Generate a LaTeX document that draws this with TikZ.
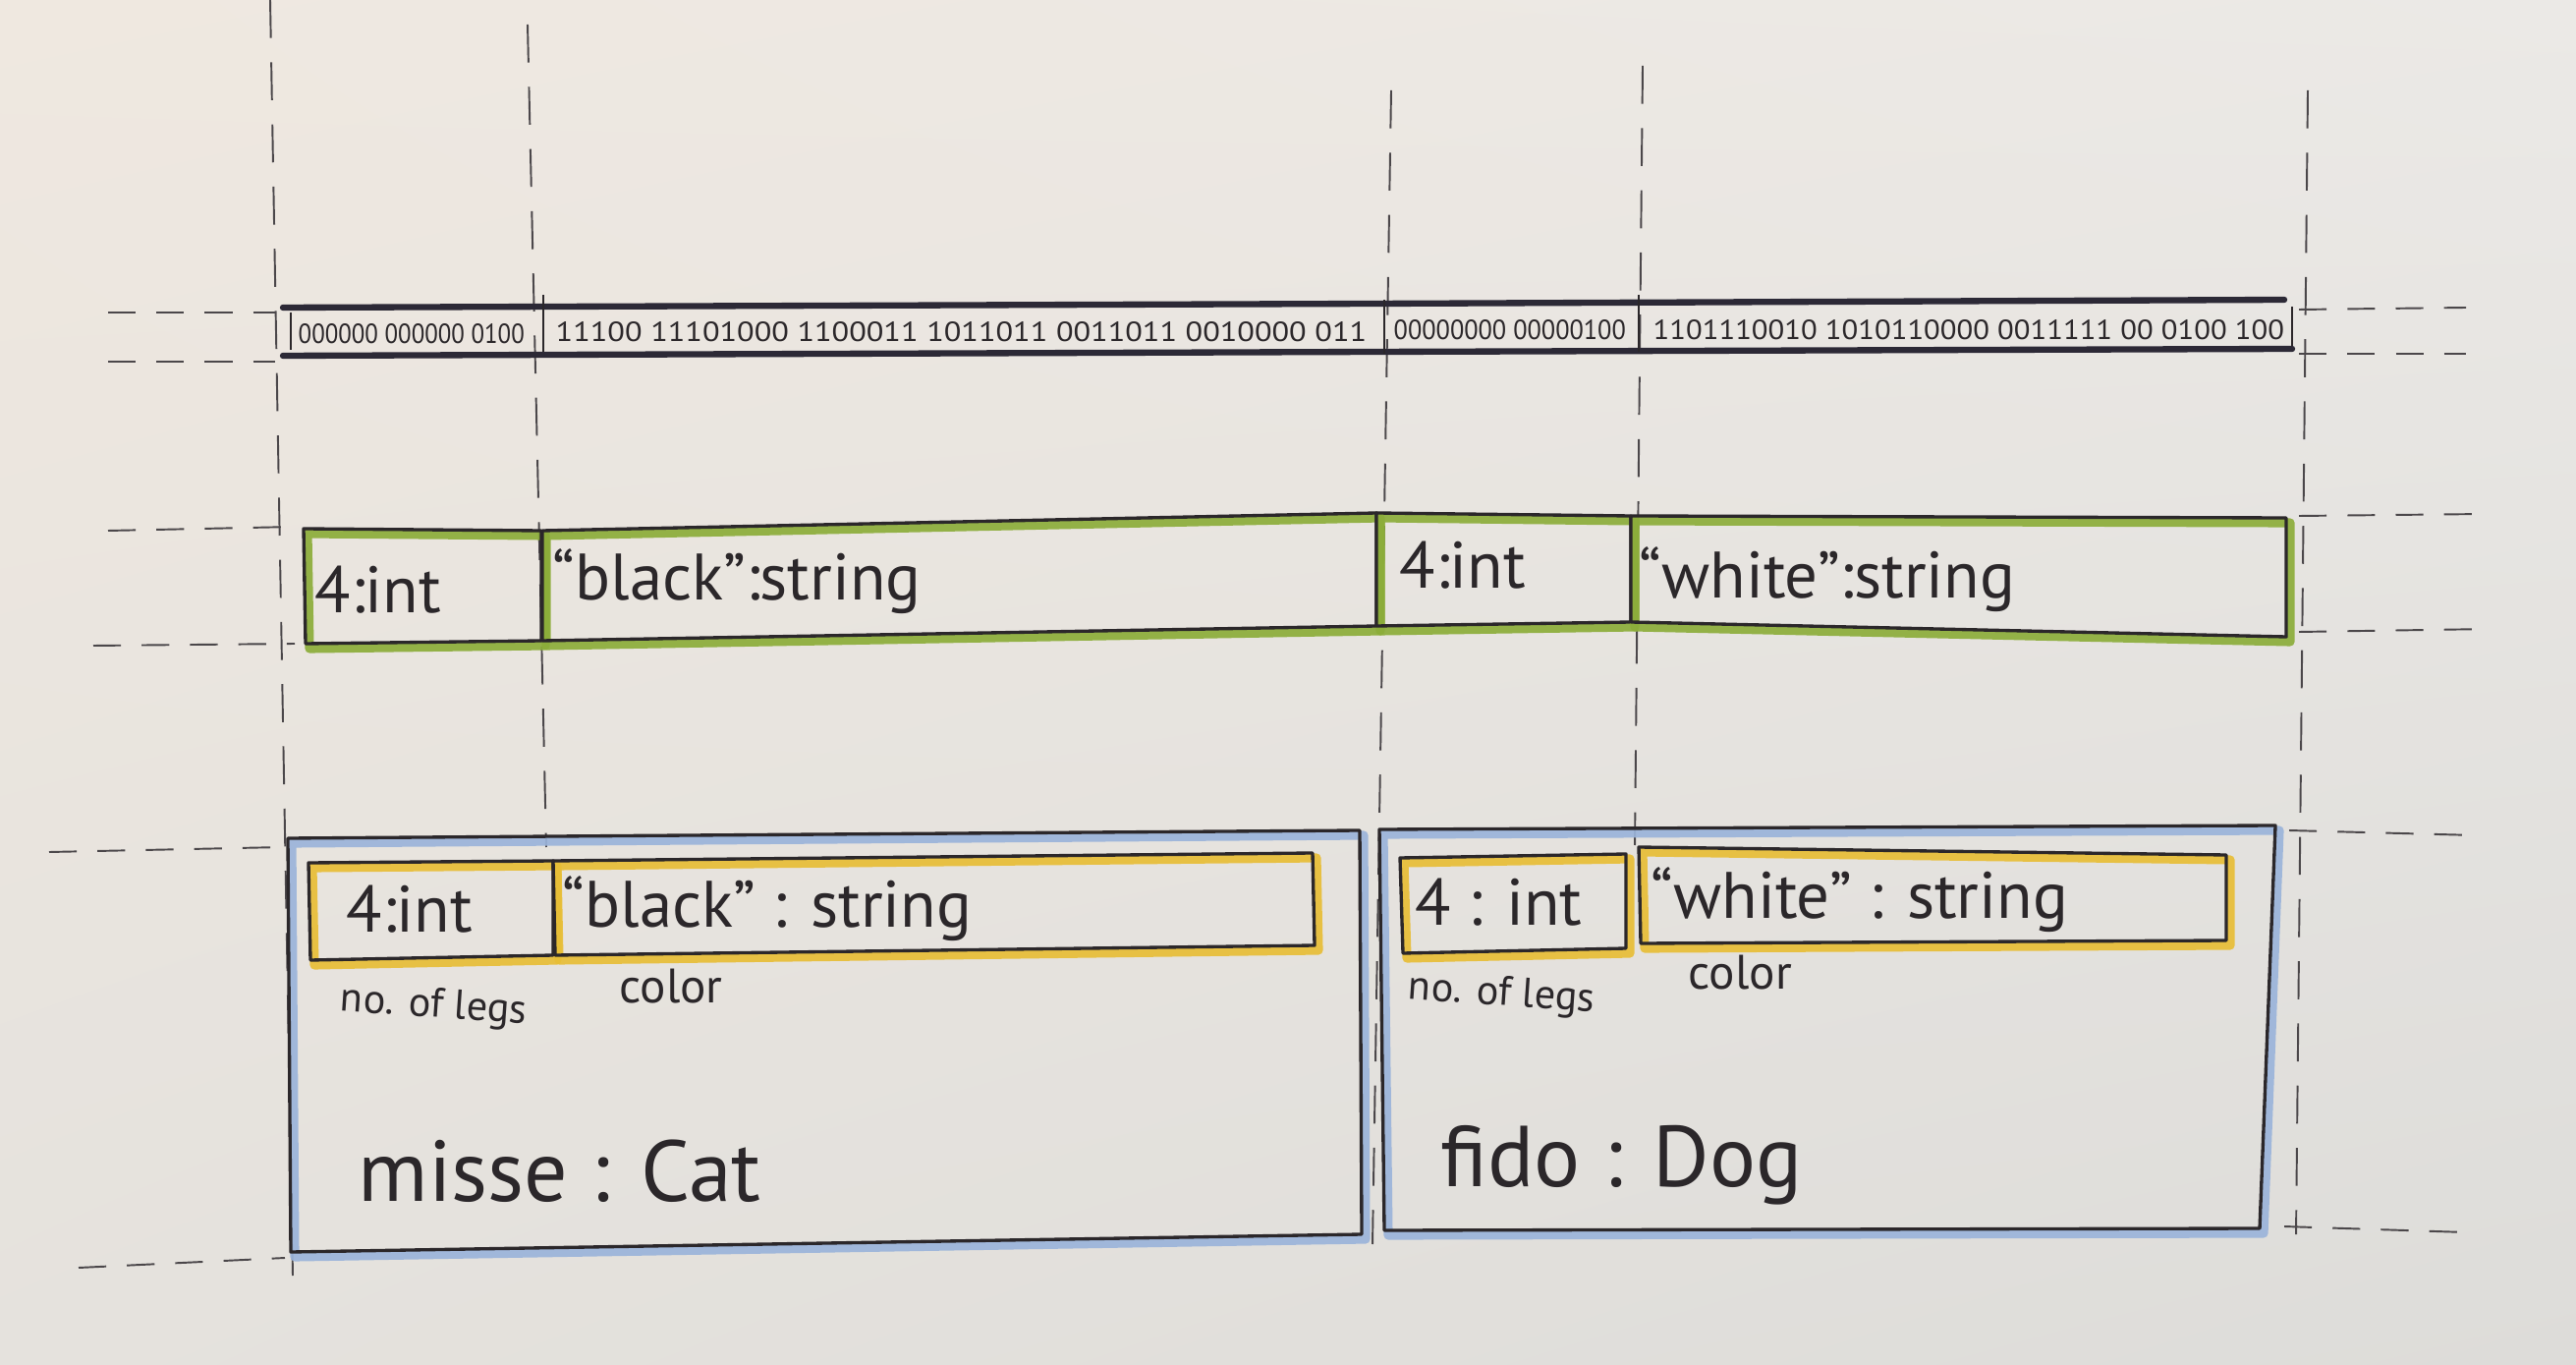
\documentclass[tikz,border=0pt]{standalone}
\usepackage{fontspec}
\usepackage{graphicx}
\setmainfont{PT Sans}
\usetikzlibrary{calc,shadings}

\definecolor{ink}{HTML}{2B272A}
\definecolor{navyink}{HTML}{2C2936}
\definecolor{leaf}{HTML}{8CAD3A}
\definecolor{butter}{HTML}{E8BE36}
\definecolor{sky}{HTML}{9BB4DA}
\definecolor{paperA}{HTML}{EFE8E0}
\definecolor{paperB}{HTML}{EBE9E6}
\definecolor{paperC}{HTML}{E5E2DD}
\definecolor{paperD}{HTML}{DDDCD9}

\tikzset{
  x=0.01cm, y=-0.01cm,
  guide/.style={ink!85, line width=0.55pt, dash pattern=on 11pt off 7pt},
  hguide/.style={ink!85, line width=0.55pt, dash pattern=on 8pt off 6pt},
  inkline/.style={ink, line width=0.95pt, line join=round},
  strip/.style={navyink, line width=1.8pt, line cap=round},
  marker/.style={line width=2.6pt, line join=round, opacity=0.92},
  bits/.style={font=\fontsize{10}{10}\selectfont, text=ink, anchor=west, inner sep=0pt},
  val/.style={font=\fontsize{19}{19}\selectfont, text=ink, anchor=west, inner sep=0pt},
  role/.style={font=\fontsize{12}{12}\selectfont, text=ink, anchor=west, inner sep=0pt},
  rolebig/.style={font=\fontsize{14}{14}\selectfont, text=ink, anchor=west, inner sep=0pt},
  objname/.style={font=\fontsize{25}{25}\selectfont, text=ink, anchor=west, inner sep=0pt},
}

% marker-and-pen cell: colour, then the four corners (tl, tr, br, bl)
\newcommand\penbox[5]{%
  \draw[marker, draw=#1, shift={(4,5)}] #2 -- #3 -- #4 -- #5 -- cycle;
  \draw[inkline] #2 -- #3 -- #4 -- #5 -- cycle;
}
% a run of bits squeezed to a given width
\newcommand\bitrun[2]{\resizebox{#1}{0.2cm}{#2}}

\begin{document}
\begin{tikzpicture}
\useasboundingbox (0,0) rectangle (2622,1389);
\shade[upper left=paperA, upper right=paperB, lower left=paperC, lower right=paperD]
  (0,0) rectangle (2622,1389);

% ---- guide coordinates ----
\coordinate (v1a) at (275,0);    \coordinate (v1b) at (298,1298);
\coordinate (v2a) at (537,25);   \coordinate (v2b) at (556,862);
\coordinate (v3a) at (1416,92);  \coordinate (v3b) at (1397,1266);
\coordinate (v4a) at (1672,67);  \coordinate (v4b) at (1664,860);
\coordinate (v5a) at (2349,92);  \coordinate (v5b) at (2337,1256);

\foreach \i in {1,...,5} \draw[guide] (v\i a) -- (v\i b);

% horizontal guides on both sides
\coordinate (h1l) at (110,318);  \coordinate (h1L) at (280,318);
\coordinate (h1r) at (2340,315); \coordinate (h1R) at (2510,313);
\coordinate (h2l) at (110,368);  \coordinate (h2L) at (280,368);
\coordinate (h2r) at (2340,360); \coordinate (h2R) at (2510,360);
\coordinate (h3l) at (110,540);  \coordinate (h3L) at (300,536);
\coordinate (h3r) at (2340,525); \coordinate (h3R) at (2530,523);
\coordinate (h4l) at (95,657);   \coordinate (h4L) at (300,655);
\coordinate (h4r) at (2340,643); \coordinate (h4R) at (2535,640);
\coordinate (h5l) at (50,867);   \coordinate (h5L) at (288,862);
\coordinate (h5r) at (2330,845); \coordinate (h5R) at (2520,850);
\coordinate (h6l) at (80,1290);  \coordinate (h6L) at (290,1280);
\coordinate (h6r) at (2325,1248);\coordinate (h6R) at (2510,1254);
\foreach \i in {1,...,6} {
  \draw[hguide] (h\i l) -- (h\i L);
  \draw[hguide] (h\i r) -- (h\i R);
}

% ---- memory strip ----
\coordinate (st1) at (288,313);  \coordinate (st2) at (1400,309);  \coordinate (st3) at (2325,305);
\coordinate (sb1) at (288,362);  \coordinate (sb2) at (1400,358);  \coordinate (sb3) at (2333,355);
\draw[strip] (st1) -- (st2) -- (st3);
\draw[strip] (sb1) -- (sb2) -- (sb3);
\draw[ink, line width=0.6pt] (296,318) -- (296,356);
\draw[ink, line width=0.6pt] (2333,312) -- (2333,352);
\draw[ink, line width=0.6pt] (553,300) -- (553,358);
\draw[ink, line width=0.6pt] (1409,305) -- (1409,360);
\draw[ink, line width=0.6pt] (1668,300) -- (1668,358);

\node[bits] (b1) at (303,340) {\bitrun{2.3cm}{000000 000000 0100}};
\node[bits] (b2) at (565,338) {\bitrun{8.25cm}{11100 11101000 1100011 1011011 0011011 0010000 011}};
\node[bits] (b3) at (1418,336) {\bitrun{2.36cm}{00000000 00000100}};
\node[bits] (b4) at (1682,336) {\bitrun{6.42cm}{1101110010 1010110000 0011111 00 0100 100}};

% ---- flat field row ----
\penbox{leaf}{(309,538)}{(551,540)}{(551,652)}{(311,655)}
\penbox{leaf}{(552,540)}{(1401,522)}{(1401,637)}{(552,652)}
\penbox{leaf}{(1401,522)}{(1660,525)}{(1660,633)}{(1401,637)}
\penbox{leaf}{(1660,525)}{(2327,527)}{(2327,648)}{(1660,633)}

\node[val] (f1) at (320,600) {4:int};
\node[val] (f2) at (562,592) {“black”:string};
\node[val] (f3) at (1424,575) {4:int};
\node[val] (f4) at (1668,590) {“white”:string};

% ---- objects ----
\penbox{sky}{(293,853)}{(1384,845)}{(1386,1256)}{(296,1274)}
\penbox{sky}{(1404,844)}{(2316,840)}{(2300,1250)}{(1409,1252)}

\penbox{butter}{(314,878)}{(563,876)}{(563,972)}{(316,977)}
\penbox{butter}{(563,876)}{(1336,868)}{(1338,962)}{(565,972)}
\penbox{butter}{(1425,873)}{(1655,869)}{(1655,965)}{(1428,970)}
\penbox{butter}{(1668,862)}{(2266,870)}{(2266,957)}{(1670,960)}

\node[val] (c1) at (352,925) {4:int};
\node[val] (c2) at (572,925) {“black” : string};
\node[val] (d1) at (1440,918) {4 : int};
\node[val] (d2) at (1680,916) {“white” : string};

\node[role, rotate=-4] (c1l) at (346,1018) {no. of legs};
\node[rolebig] (c2l) at (630,1004) {color};
\node[role, rotate=-4] (d1l) at (1433,1006) {no. of legs};
\node[rolebig] (d2l) at (1718,990) {color};

\node[objname] (cat) at (364,1192) {misse : Cat};
\node[objname] (dog) at (1466,1186) {fido : Dog};
\end{tikzpicture}
\end{document}
